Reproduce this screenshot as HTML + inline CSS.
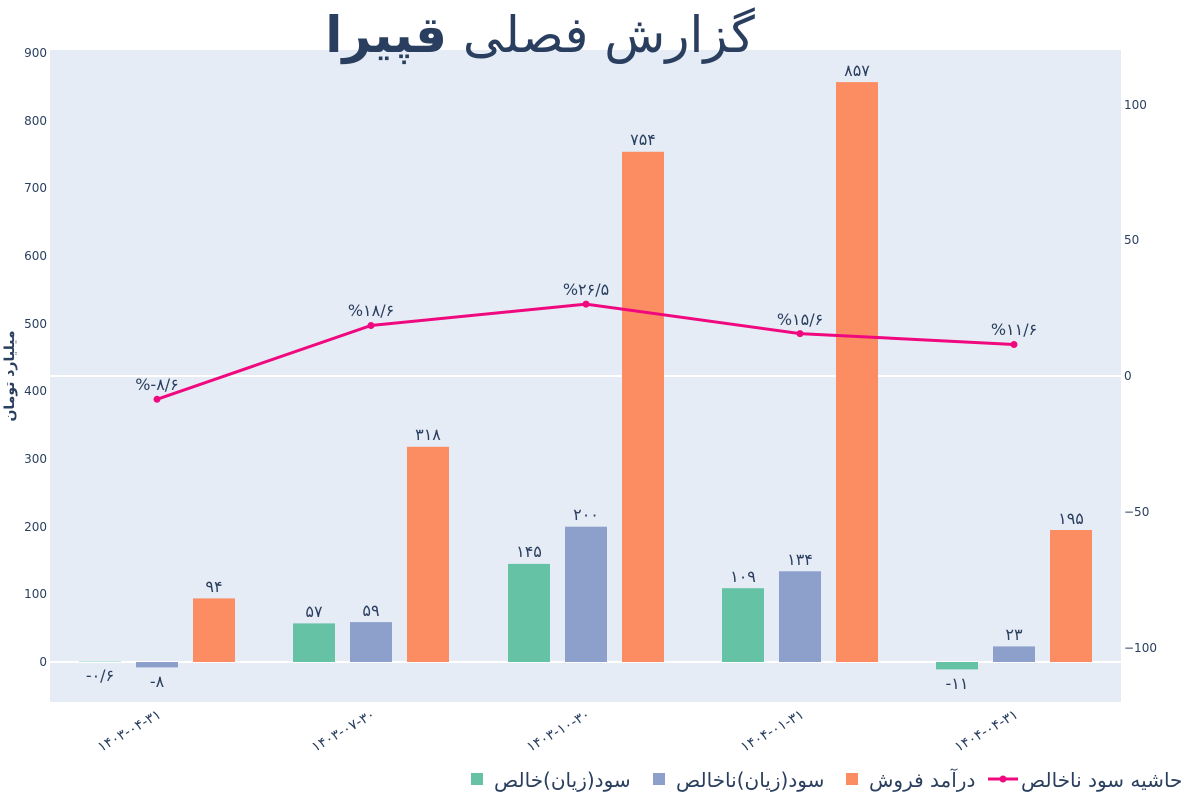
<!DOCTYPE html>
<html><head><meta charset="utf-8"><style>
body{margin:0;background:#fff;}
svg text{font-family:"DejaVu Sans","Liberation Sans",sans-serif;}
</style></head><body>
<svg width="1200" height="800" viewBox="0 0 1200 800" xmlns="http://www.w3.org/2000/svg">
<rect x="50" y="50" width="1071" height="652" fill="#e5ecf6"/>
<line x1="50" x2="1121" y1="376" y2="376" stroke="#fff" stroke-width="2"/>
<line x1="50" x2="1121" y1="662" y2="662" stroke="#fff" stroke-width="2"/>
<g font-size="12" fill="#2a3f5f" text-anchor="end">
<text x="47" y="666">0</text><text x="47" y="598">100</text><text x="47" y="531">200</text><text x="47" y="463">300</text><text x="47" y="395">400</text><text x="47" y="328">500</text><text x="47" y="260">600</text><text x="47" y="192">700</text><text x="47" y="125">800</text><text x="47" y="57">900</text>
</g>
<g font-size="12" fill="#2a3f5f">
<text x="1124" y="109">100</text><text x="1124" y="244">50</text><text x="1124" y="380">0</text><text x="1124" y="516">−50</text><text x="1124" y="652">−100</text>
</g>
<text transform="translate(14,376) rotate(-90)" text-anchor="middle" font-size="14" font-weight="bold" fill="#2a3f5f">میلیارد تومان</text>
<text x="540" y="52" text-anchor="middle" font-size="50" fill="#2a3f5f">گزارش فصلی <tspan font-weight="bold">قپیرا</tspan></text>
<g fill="#66c2a5">
<rect x="79" y="661.6" width="42" height="0.4"/><rect x="293" y="623.4" width="42" height="38.6"/><rect x="508" y="563.9" width="42" height="98.1"/><rect x="722" y="588.2" width="42" height="73.8"/><rect x="936" y="662" width="42" height="7.4"/>
</g>
<g fill="#8da0cb">
<rect x="136" y="662" width="42" height="5.4"/><rect x="350" y="622.1" width="42" height="39.9"/><rect x="565" y="526.7" width="42" height="135.3"/><rect x="779" y="571.3" width="42" height="90.7"/><rect x="993" y="646.4" width="42" height="15.6"/>
</g>
<g fill="#fc8d62">
<rect x="193" y="598.4" width="42" height="63.6"/><rect x="407" y="446.8" width="42" height="215.2"/><rect x="622" y="151.8" width="42" height="510.2"/><rect x="836" y="82.1" width="42" height="579.9"/><rect x="1050" y="530" width="42" height="132"/>
</g>
<g font-size="16" fill="#2a3f5f" text-anchor="middle">
<text x="100" y="681">-۰/۶</text><text x="314" y="617">۵۷</text><text x="529" y="557">۱۴۵</text><text x="743" y="582">۱۰۹</text><text x="957" y="689">-۱۱</text>
<text x="157" y="687">-۸</text><text x="371" y="616">۵۹</text><text x="586" y="520">۲۰۰</text><text x="800" y="565">۱۳۴</text><text x="1014" y="640">۲۳</text>
<text x="214" y="592">۹۴</text><text x="428" y="440">۳۱۸</text><text x="643" y="145">۷۵۴</text><text x="857" y="76">۸۵۷</text><text x="1071" y="524">۱۹۵</text>
</g>
<polyline points="157,399.3 371,325.5 586,304.1 800,333.6 1014,344.5" fill="none" stroke="#f0087f" stroke-width="3"/>
<g fill="#f0087f"><circle cx="157" cy="399.3" r="3.5"/><circle cx="371" cy="325.5" r="3.5"/><circle cx="586" cy="304.1" r="3.5"/><circle cx="800" cy="333.6" r="3.5"/><circle cx="1014" cy="344.5" r="3.5"/></g>
<g font-size="16" fill="#2a3f5f" text-anchor="middle">
<text x="157" y="390">%-۸/۶</text><text x="371" y="316">%۱۸/۶</text><text x="586" y="295">%۲۶/۵</text><text x="800" y="325">%۱۵/۶</text><text x="1014" y="335">%۱۱/۶</text>
</g>
<g font-size="14" fill="#2a3f5f" text-anchor="end">
<text transform="translate(162,717) rotate(-30)">۱۴۰۳-۰۴-۳۱</text>
<text transform="translate(376,717) rotate(-30)">۱۴۰۳-۰۷-۳۰</text>
<text transform="translate(591,717) rotate(-30)">۱۴۰۳-۱۰-۳۰</text>
<text transform="translate(805,717) rotate(-30)">۱۴۰۴-۰۱-۳۱</text>
<text transform="translate(1019,717) rotate(-30)">۱۴۰۴-۰۴-۳۱</text>
</g>
<g font-size="20" fill="#2a3f5f">
<rect x="471" y="773" width="12" height="12" fill="#66c2a5"/><text x="494" y="787">سود(زیان)خالص</text>
<rect x="653" y="773" width="12" height="12" fill="#8da0cb"/><text x="676" y="787">سود(زیان)ناخالص</text>
<rect x="846" y="773" width="12" height="12" fill="#fc8d62"/><text x="869" y="787">درآمد فروش</text>
<line x1="988" x2="1018" y1="779" y2="779" stroke="#f0087f" stroke-width="3"/><circle cx="1003" cy="779" r="3.5" fill="#f0087f"/>
<text x="1021" y="787">حاشیه سود ناخالص</text>
</g>
</svg>
</body></html>
